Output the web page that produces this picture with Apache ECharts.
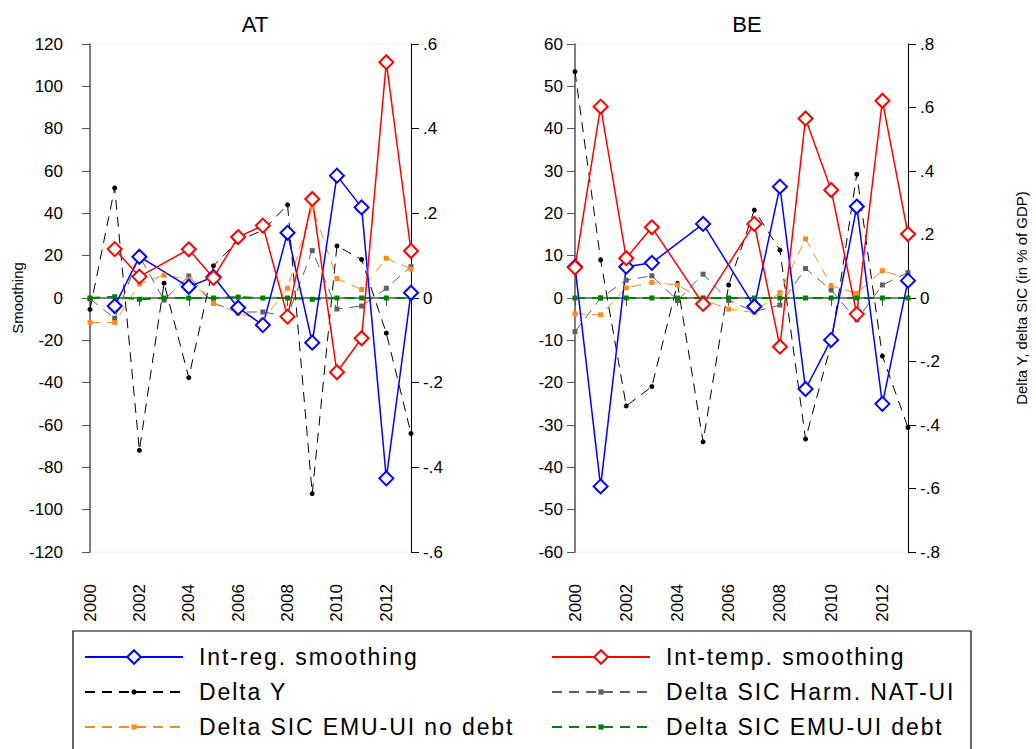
<!DOCTYPE html>
<html>
<head>
<meta charset="utf-8">
<script src="https://cdn.jsdelivr.net/npm/echarts@6/dist/echarts.min.js"></script>
<style>
  html, body { margin: 0; padding: 0; background: #fff; }
  #chart { width: 1036px; height: 749px; }
  /* legend labels in the reference are tracked out a little */
  #chart text[style*="23px"] { letter-spacing: 1.9px; }
</style>
</head>
<body>
<div id="chart"></div>
<script>
const years = [2000, 2001, 2002, 2003, 2004, 2005, 2006, 2007, 2008, 2009, 2010, 2011, 2012, 2013];
const yearTicks = [2000, 2002, 2004, 2006, 2008, 2010, 2012];

// AT (left axis: smoothing, right axis: % of GDP)
const atIntReg  = [null, -3.8, 19.5, null, 5.3, 10.0, -4.6, -12.8, 30.8, -21.1, 57.8, 42.8, -85.2, 2.5];
const atIntTemp = [null, 23.1, 10.1, null, 23.0, 9.5, 28.8, 34.2, -8.8, 46.8, -35.1, -19.0, 111.4, 22.2];
const atDeltaY  = [-0.027, 0.26, -0.36, 0.035, -0.188, 0.076, 0.135, 0.16, 0.22, -0.462, 0.123, 0.091, -0.083, -0.32];
const atHarm    = [-0.002, -0.048, 0.099, -0.005, 0.052, -0.012, -0.033, -0.033, -0.043, 0.112, -0.026, -0.019, 0.023, 0.074];
const atNoDebt  = [-0.058, -0.058, 0.033, 0.054, 0.044, -0.012, -0.036, -0.052, 0.023, 0.215, 0.046, 0.02, 0.094, 0.068];
const atDebt    = [0, 0.003, -0.003, 0, 0, 0, 0.002, 0, 0, -0.003, 0, 0, 0, 0];

// BE
const beIntReg  = [7.4, -44.5, 7.4, 8.3, null, 17.5, null, -2.0, 26.3, -21.5, -9.9, 21.6, -25.0, 4.1];
const beIntTemp = [7.2, 45.2, 9.4, 16.7, null, -1.4, null, 17.5, -11.5, 42.4, 25.5, -3.8, 46.6, 15.1];
const beDeltaY  = [0.713, 0.12, -0.34, -0.279, 0.046, -0.453, 0.041, 0.277, 0.151, -0.444, -0.145, 0.39, -0.183, -0.408];
const beHarm    = [-0.106, 0, 0.056, 0.07, -0.008, 0.075, -0.008, -0.043, -0.022, 0.093, 0.025, -0.069, 0.041, 0.08];
const beNoDebt  = [-0.05, -0.053, 0.032, 0.049, 0.041, -0.005, -0.035, -0.046, 0.017, 0.186, 0.039, 0.015, 0.086, 0.062];
const beDebt    = [0, 0, 0, 0, 0, 0, 0, 0, 0, 0, 0, 0, 0, 0];

const names = ['Int-reg. smoothing', 'Int-temp. smoothing', 'Delta Y', 'Delta SIC Harm. NAT-UI',
  'Delta SIC EMU-UI no debt', 'Delta SIC EMU-UI debt'];

const FONT = 'Liberation Sans, Arial, sans-serif';
const pairs = vals => years.map((y, i) => [y, vals[i]]);

// 0.6 -> ".6", -0.4 -> "-.4"
const fmtFrac = v => {
  if (v === 0) return '0';
  const s = String(Math.round(v * 10) / 10);
  return s.replace(/^(-?)0\./, '$1.');
};

const dashed = [10, 7];

function panelSeries(xi, yl, yr, d) {
  return [
    { name: names[2], data: pairs(d[2]), yAxisIndex: yr, color: '#000', symbol: 'circle', symbolSize: 5,
      lineStyle: { width: 1, type: dashed } },
    { name: names[3], data: pairs(d[3]), yAxisIndex: yr, color: '#606060', symbol: 'rect', symbolSize: 5,
      lineStyle: { width: 1, type: dashed } },
    { name: names[4], data: pairs(d[4]), yAxisIndex: yr, color: '#ff8c1a', symbol: 'rect', symbolSize: 5,
      lineStyle: { width: 1, type: dashed } },
    { name: names[5], data: pairs(d[5]), yAxisIndex: yr, color: '#008000', symbol: 'rect', symbolSize: 5,
      lineStyle: { width: 2, type: dashed } },
    { name: names[0], data: pairs(d[0]), yAxisIndex: yl, color: '#0000ff', symbol: 'emptyDiamond', symbolSize: 14,
      itemStyle: { borderWidth: 1.5 }, lineStyle: { width: 1.5 } },
    { name: names[1], data: pairs(d[1]), yAxisIndex: yl, color: '#ff0000', symbol: 'emptyDiamond', symbolSize: 14,
      itemStyle: { borderWidth: 1.5 }, lineStyle: { width: 1.5 } }
  ].map(s => Object.assign({ type: 'line', xAxisIndex: xi, connectNulls: true, showAllSymbol: true,
    animation: false, emphasis: { disabled: true } }, s));
}

function xAxis(gi) {
  return {
    type: 'value', gridIndex: gi, min: 2000, max: 2013, interval: 2,
    axisLine: { lineStyle: { color: '#555', width: 1.5 } },
    axisTick: { length: 8, lineStyle: { color: '#555' }, customValues: yearTicks },
    axisLabel: { rotate: 90, margin: 32, fontSize: 17, color: '#000', fontFamily: FONT,
      customValues: yearTicks, formatter: v => String(v) },
    splitLine: { show: false }
  };
}

function yAxis(gi, pos, min, max, interval, labelMargin, extra) {
  return Object.assign({
    type: 'value', gridIndex: gi, position: pos, min: min, max: max, interval: interval,
    axisLine: { show: true, onZero: false, lineStyle: { color: pos === 'left' ? '#555' : '#000', width: pos === 'left' ? 1.5 : 1 } },
    axisTick: { show: true, length: 8, lineStyle: { color: pos === 'left' ? '#555' : '#000' } },
    axisLabel: { margin: labelMargin, fontSize: 17, color: '#000', fontFamily: FONT },
    splitLine: { show: false }
  }, extra || {});
}

// one legend per row so each row can have its own marker size;
// the label is taller than the icon, so the row box top sits ~11.5px above its centre
function legendRow(name, left, centerY, itemHeight) {
  return {
    data: [name], left: left, top: centerY - 11.5, padding: 0,
    itemWidth: 98, itemHeight: itemHeight, selectedMode: false,
    textStyle: { fontSize: 23, color: '#000', fontFamily: FONT, padding: [0, 0, 0, 11] }
  };
}

const chart = echarts.init(document.getElementById('chart'), null, { renderer: 'svg' });

chart.setOption({
  backgroundColor: '#fff',
  animation: false,
  title: [
    { text: 'AT', left: 250, top: 8, textAlign: 'center',
      textStyle: { fontSize: 22, fontWeight: 'normal', color: '#000', fontFamily: FONT } },
    { text: 'BE', left: 742, top: 8, textAlign: 'center',
      textStyle: { fontSize: 22, fontWeight: 'normal', color: '#000', fontFamily: FONT } }
  ],
  grid: [
    { left: 90, top: 44, width: 321, height: 508, show: true, borderColor: '#eee', borderWidth: 1 },
    { left: 575, top: 44, width: 333, height: 508, show: true, borderColor: '#eee', borderWidth: 1 }
  ],
  xAxis: [xAxis(0), xAxis(1)],
  yAxis: [
    yAxis(0, 'left', -120, 120, 20, 27, {
      name: 'Smoothing', nameLocation: 'middle', nameGap: 64, nameRotate: 90,
      nameTextStyle: { fontSize: 15, color: '#000', fontFamily: FONT } }),
    yAxis(0, 'right', -0.6, 0.6, 0.2, 12, { axisLabel: { margin: 12, fontSize: 17, color: '#000', fontFamily: FONT, formatter: fmtFrac } }),
    yAxis(1, 'left', -60, 60, 10, 12),
    yAxis(1, 'right', -0.8, 0.8, 0.2, 12, {
      axisLabel: { margin: 12, fontSize: 17, color: '#000', fontFamily: FONT, formatter: fmtFrac },
      name: 'Delta Y, delta SIC (in % of GDP)', nameLocation: 'middle', nameGap: 106, nameRotate: 90,
      nameTextStyle: { fontSize: 15, color: '#000', fontFamily: FONT } })
  ],
  legend: [
    legendRow(names[0], 84, 657, 17),
    legendRow(names[2], 84, 692, 6.5),
    legendRow(names[4], 84, 727, 6.5),
    legendRow(names[1], 551, 657, 17),
    legendRow(names[3], 551, 692, 6.5),
    legendRow(names[5], 551, 727, 6.5)
  ],
  graphic: [
    { type: 'rect', shape: { x: 73, y: 631, width: 898, height: 130 }, z: -1,
      style: { fill: '#fff', stroke: '#000', lineWidth: 1.2 } }
  ],
  series: [
    ...panelSeries(0, 0, 1, [atIntReg, atIntTemp, atDeltaY, atHarm, atNoDebt, atDebt]),
    ...panelSeries(1, 2, 3, [beIntReg, beIntTemp, beDeltaY, beHarm, beNoDebt, beDebt])
  ]
});
</script>
</body>
</html>
